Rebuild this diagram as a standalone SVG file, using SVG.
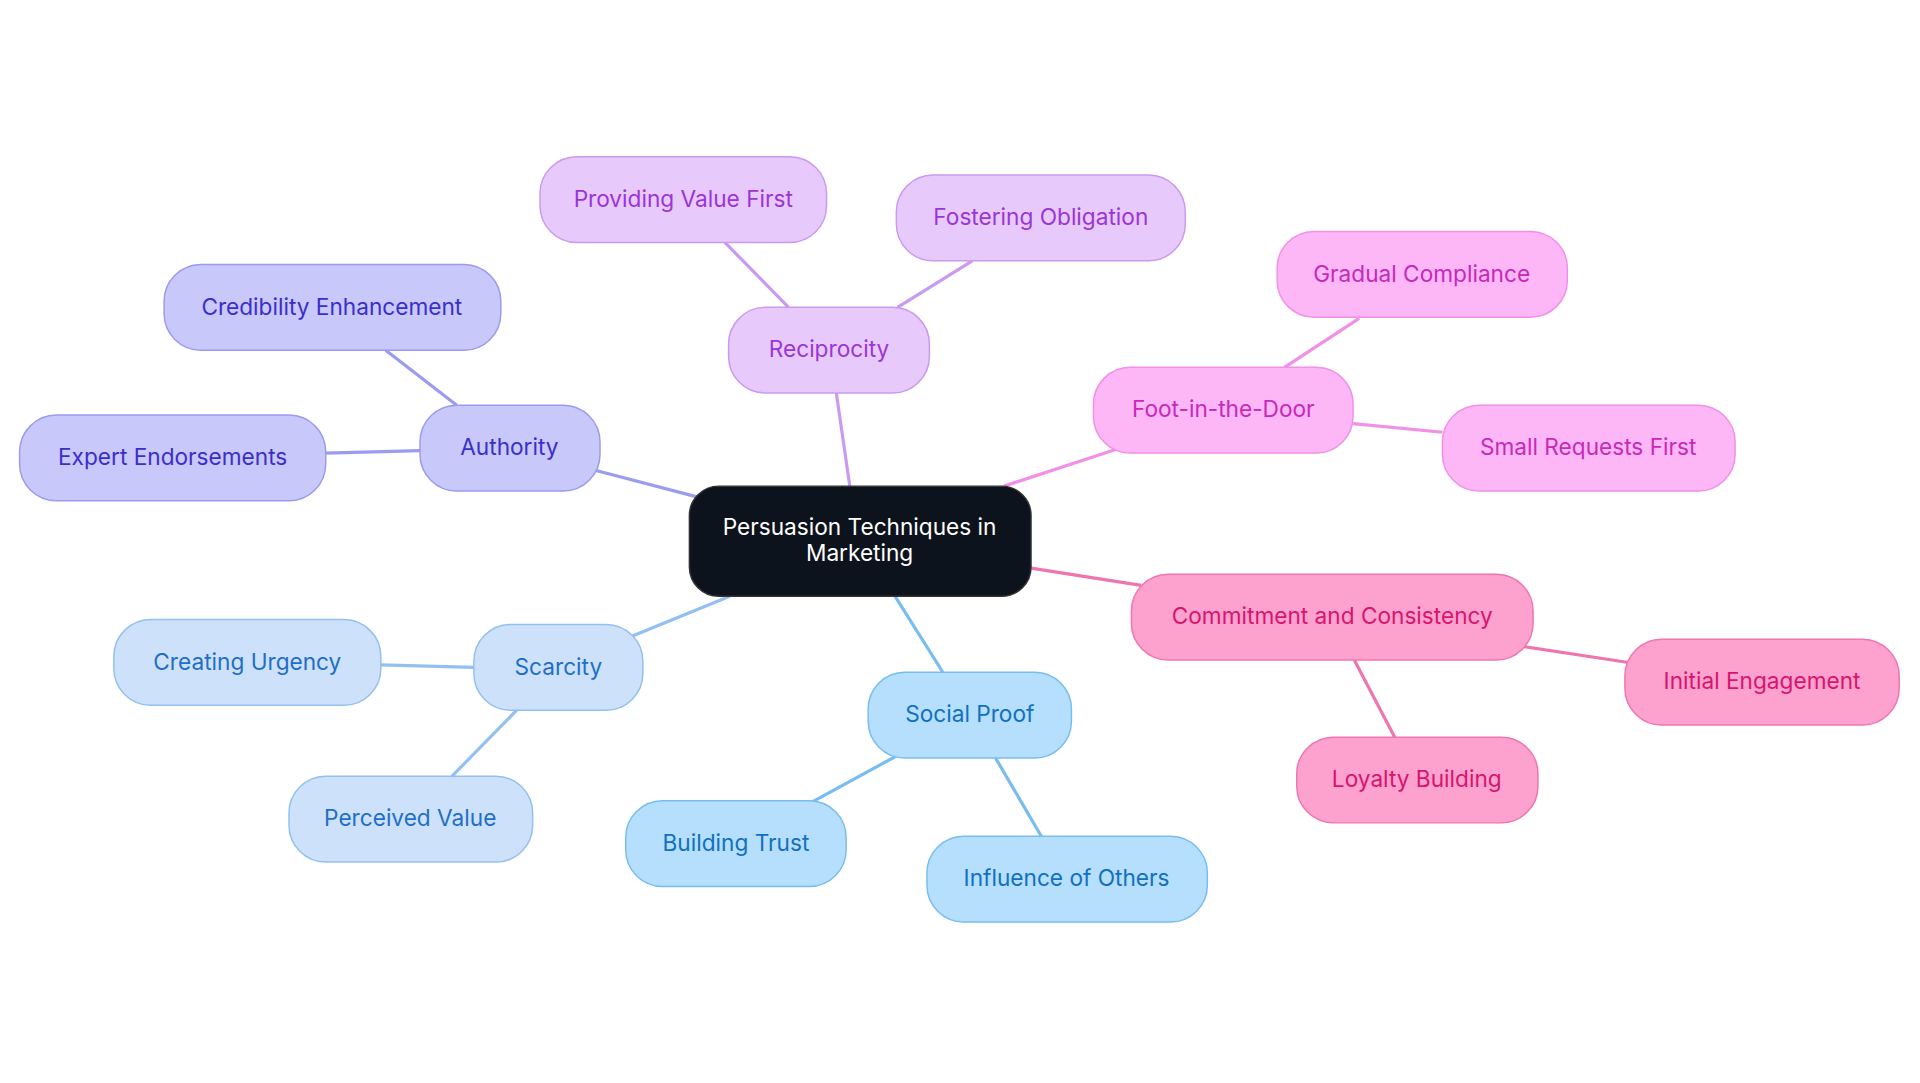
<svg xmlns="http://www.w3.org/2000/svg" width="1920" height="1083" viewBox="0 0 1920 1083">
<style>
text{font-family:Inter,"Noto Sans",sans-serif;font-size:18.5px;text-anchor:middle;dominant-baseline:central}
rect{stroke-width:1.2}
line{stroke-width:2.6}
.a rect{fill:#c8c8fb;stroke:#9a9af0}.a text{fill:#3b2fc9}
.r rect{fill:#e8c9fb;stroke:#c99af0}.r text{fill:#9a36d6}
.f rect{fill:#fdb6f6;stroke:#f090e8}.f text{fill:#c52bb8}
.c rect{fill:#fda2cf;stroke:#ef75b0}.c text{fill:#d8146e}
.s rect{fill:#b5dffc;stroke:#78bdf0}.s text{fill:#1270c0}
.k rect{fill:#cde2fa;stroke:#92c0f0}.k text{fill:#1f6fc8}
</style>
<rect width="1920" height="1083" fill="#fff"/>
<g transform="scale(1.2245)">
<g id="connectors">
<g stroke="#9b9bef"><line x1="570" y1="406" x2="486" y2="384"/><line x1="373" y1="331" x2="315" y2="286"/><line x1="343" y1="368" x2="266" y2="370"/></g>
<g stroke="#c99af0"><line x1="694" y1="397" x2="683" y2="321"/><line x1="644" y1="251" x2="592" y2="198"/><line x1="733" y1="251" x2="794" y2="213"/></g>
<g stroke="#f090e8"><line x1="820" y1="397" x2="911" y2="367"/><line x1="1049" y1="300" x2="1110" y2="260"/><line x1="1105" y1="346" x2="1178" y2="353"/></g>
<g stroke="#ef75b0"><line x1="842" y1="464" x2="932" y2="478"/><line x1="1244" y1="528" x2="1330" y2="541"/><line x1="1106" y1="539" x2="1139" y2="602"/></g>
<g stroke="#78bdf0"><line x1="731" y1="487" x2="770" y2="549"/><line x1="731" y1="618" x2="663" y2="655"/><line x1="813" y1="619" x2="851" y2="684"/></g>
<g stroke="#92c0f0"><line x1="596" y1="487" x2="515" y2="520"/><line x1="311" y1="543" x2="387" y2="545"/><line x1="422" y1="580" x2="369" y2="634"/></g>
</g>
<g id="center"><rect x="563" y="397" width="279" height="90" rx="24" fill="#0d131c" stroke="#333"/><text x="702" y="430" fill="#fff">Persuasion Techniques in</text><text x="702" y="451" fill="#fff">Marketing</text></g>
<g id="authority" class="a"><rect x="343" y="331" width="147" height="70" rx="30"/><text x="416" y="365">Authority</text></g>
<g id="cred" class="a"><rect x="134" y="216" width="275" height="70" rx="30"/><text x="271" y="250">Credibility Enhancement</text></g>
<g id="expert" class="a"><rect x="16" y="339" width="250" height="70" rx="30"/><text x="141" y="373">Expert Endorsements</text></g>
<g id="recip" class="r"><rect x="595" y="251" width="164" height="70" rx="30"/><text x="677" y="285">Reciprocity</text></g>
<g id="prov" class="r"><rect x="441" y="128" width="234" height="70" rx="30"/><text x="558" y="162">Providing Value First</text></g>
<g id="fost" class="r"><rect x="732" y="143" width="236" height="70" rx="30"/><text x="850" y="177">Fostering Obligation</text></g>
<g id="foot" class="f"><rect x="893" y="300" width="212" height="70" rx="30"/><text x="999" y="334">Foot-in-the-Door</text></g>
<g id="grad" class="f"><rect x="1043" y="189" width="237" height="70" rx="30"/><text x="1161" y="223">Gradual Compliance</text></g>
<g id="small" class="f"><rect x="1178" y="331" width="239" height="70" rx="30"/><text x="1297" y="365">Small Requests First</text></g>
<g id="commit" class="c"><rect x="924" y="469" width="328" height="70" rx="30"/><text x="1088" y="503">Commitment and Consistency</text></g>
<g id="initial" class="c"><rect x="1327" y="522" width="224" height="70" rx="30"/><text x="1439" y="556">Initial Engagement</text></g>
<g id="loyal" class="c"><rect x="1059" y="602" width="197" height="70" rx="30"/><text x="1157" y="636">Loyalty Building</text></g>
<g id="social" class="s"><rect x="709" y="549" width="166" height="70" rx="30"/><text x="792" y="583">Social Proof</text></g>
<g id="trust" class="s"><rect x="511" y="654" width="180" height="70" rx="30"/><text x="601" y="688">Building Trust</text></g>
<g id="infl" class="s"><rect x="757" y="683" width="229" height="70" rx="30"/><text x="871" y="717">Influence of Others</text></g>
<g id="scarcity" class="k"><rect x="387" y="510" width="138" height="70" rx="30"/><text x="456" y="544">Scarcity</text></g>
<g id="urgency" class="k"><rect x="93" y="506" width="218" height="70" rx="30"/><text x="202" y="540">Creating Urgency</text></g>
<g id="perc" class="k"><rect x="236" y="634" width="199" height="70" rx="30"/><text x="335" y="668">Perceived Value</text></g>
</g>
</svg>
